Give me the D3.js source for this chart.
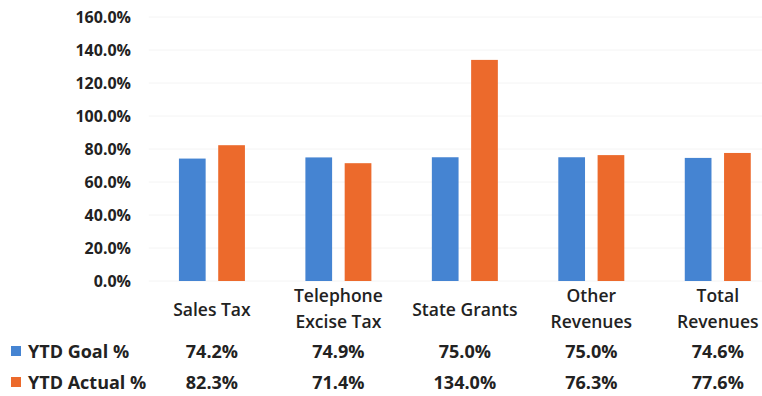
<!DOCTYPE html>
<html>
<head>
<meta charset="utf-8">
<script src="https://cdn.jsdelivr.net/npm/d3@7"></script>
<style>
  html, body { margin: 0; padding: 0; background: #fff; }
  svg { display: block; }
  text { font-family: "Open Sans", Lato, sans-serif; fill: #222; }
</style>
</head>
<body>
<svg id="chart" width="762" height="396"></svg>
<script>
// Revenue categories (two-line labels split on "|")
const categories = ["Sales Tax", "Telephone|Excise Tax", "State Grants", "Other|Revenues", "Total|Revenues"];
const seriesNames = ["YTD Goal %", "YTD Actual %"];
const goalValues = [74.2, 74.9, 75.0, 75.0, 74.6];
const actualValues = [82.3, 71.4, 134.0, 76.3, 77.6];
const yTicks = [0, 20, 40, 60, 80, 100, 120, 140, 160];
const colors = ["#4584d2", "#ec6a2c"];

const svg = d3.select("#chart");
const plot = { left: 148.7, right: 781, top: 17, bottom: 281 };

const x0 = d3.scaleBand().domain(categories).range([plot.left, plot.right]).padding(0);
const groupW = 66;
const x1 = d3.scaleBand().domain(seriesNames).range([0, groupW]).paddingInner(0.32);
const y = d3.scaleLinear().domain([0, 160]).range([plot.bottom, plot.top]);
const color = d3.scaleOrdinal().domain(seriesNames).range(colors);

// faint horizontal gridlines
svg.append("g")
  .selectAll("line")
  .data(yTicks)
  .join("line")
  .attr("x1", plot.left).attr("x2", 762)
  .attr("y1", d => y(d)).attr("y2", d => y(d))
  .attr("stroke", "#f4f4f4").attr("stroke-width", 1);

// y axis labels
const yAxis = d3.axisLeft(y).tickValues(yTicks).tickSize(0).tickPadding(0)
  .tickFormat(d => d.toFixed(1) + "%");
svg.append("g")
  .attr("transform", "translate(131,0)")
  .call(yAxis)
  .call(g => g.select(".domain").remove())
  .call(g => g.selectAll("text")
    .attr("font-family", "'Open Sans', sans-serif")
    .attr("font-size", 16).attr("font-weight", 700).attr("fill", "#222"));

// grouped bars
const rows = categories.map((c, i) => ({ cat: c, vals: [goalValues[i], actualValues[i]] }));
const groups = svg.append("g").selectAll("g")
  .data(rows)
  .join("g")
  .attr("transform", d => `translate(${x0(d.cat) + x0.bandwidth() / 2 - groupW / 2},0)`);
groups.selectAll("rect")
  .data(d => d.vals.map((v, j) => ({ key: seriesNames[j], v })))
  .join("rect")
  .attr("x", d => x1(d.key))
  .attr("width", x1.bandwidth())
  .attr("y", d => y(d.v))
  .attr("height", d => y(0) - y(d.v))
  .attr("fill", d => color(d.key));

// category labels
const catG = svg.append("g");
categories.forEach(c => {
  const lines = c.split("|");
  const cx = x0(c) + x0.bandwidth() / 2;
  const t = catG.append("text")
    .attr("text-anchor", "middle")
    .attr("font-size", 17.5).attr("font-weight", 600).attr("fill", "#1e1e1e");
  const startY = lines.length === 1 ? 316 : 302;
  lines.forEach((ln, k) => {
    t.append("tspan").attr("x", cx).attr("y", startY + k * 26).text(ln);
  });
});

// data table rows with legend keys
const tableRows = [
  { name: seriesNames[0], vals: goalValues, y: 358 },
  { name: seriesNames[1], vals: actualValues, y: 389 }
];
const tbl = svg.append("g");
tableRows.forEach(r => {
  tbl.append("rect")
    .attr("x", 11).attr("y", r.y - 12).attr("width", 10).attr("height", 10)
    .attr("fill", color(r.name));
  tbl.append("text")
    .attr("x", 28).attr("y", r.y)
    .attr("font-size", 18).attr("font-weight", 700)
    .text(r.name);
  r.vals.forEach((v, i) => {
    tbl.append("text")
      .attr("x", x0(categories[i]) + x0.bandwidth() / 2)
      .attr("y", r.y)
      .attr("text-anchor", "middle")
      .attr("font-size", 18).attr("font-weight", 700)
      .text(v.toFixed(1) + "%");
  });
});
</script>
</body>
</html>
